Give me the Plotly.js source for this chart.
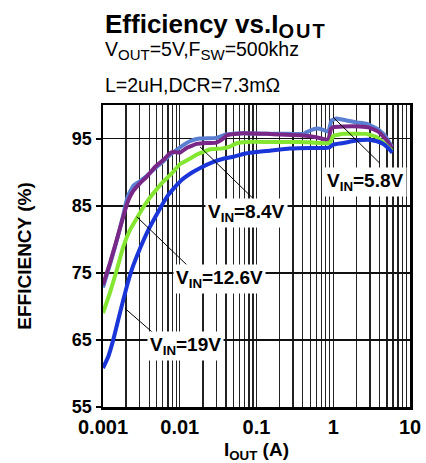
<!DOCTYPE html>
<html><head><meta charset="utf-8">
<script src="https://cdn.plot.ly/plotly-3.0.1.min.js"></script>
<style>html,body{margin:0;padding:0;background:#fff}#chart{width:426px;height:463px}</style>
</head><body><div id="chart"></div>
<script>
// ---- data (I_OUT in A, efficiency in %) ----
const iout19 = [0.001,0.00117,0.00136,0.00158,0.00184,0.00214,0.00248,0.00288,0.0033,0.0039,0.0048,0.0058,0.0071,0.0087,0.0105,0.0143,0.019,0.027,0.037,0.05,0.074,0.1,0.15,0.27,0.5,0.8,0.9,1.0,1.3,2.0,3.0,3.7,4.5,5.2,5.9];
const eff19  = [60.8,62.5,65.0,68.0,71.0,73.8,76.1,78.0,79.6,81.4,83.3,85.0,86.6,87.8,88.8,89.9,90.7,91.5,92.0,92.3,92.8,93.0,93.2,93.5,93.6,93.6,93.7,94.1,94.3,94.7,94.8,94.6,94.2,93.6,92.9];

const iout126 = [0.001,0.00123,0.00151,0.00184,0.00225,0.00275,0.0035,0.0045,0.0061,0.0079,0.0101,0.0135,0.0166,0.025,0.035,0.045,0.055,0.074,0.15,0.37,0.86,0.93,1.0,1.35,2.7,3.7,4.7,5.8];
const eff126  = [69.0,72.0,75.4,78.9,81.4,83.1,85.1,86.8,88.6,89.8,91.2,92.0,92.6,93.4,93.5,93.8,94.3,94.5,94.5,94.5,94.3,94.6,95.4,95.7,95.7,95.2,94.2,93.2];

const iout84 = [0.001,0.00123,0.00151,0.00184,0.00214,0.00248,0.003,0.0037,0.0048,0.0061,0.0074,0.0082,0.0101,0.0123,0.0166,0.02,0.03,0.036,0.041,0.067,0.136,0.2,0.37,0.6,0.86,0.93,1.0,1.35,2.2,3.0,3.9,4.5,5.0,5.8];
const eff84  = [73.2,76.4,79.9,83.4,85.8,87.2,88.3,89.3,90.8,91.8,92.8,93.0,92.9,93.6,94.2,94.3,94.4,94.9,95.5,95.8,95.7,95.6,95.5,95.2,94.8,96.4,96.7,96.8,96.8,96.6,96.0,95.3,94.7,93.6];

const iout58 = [0.001,0.00123,0.00151,0.00184,0.002,0.00214,0.0025,0.003,0.0037,0.0048,0.0061,0.0074,0.0101,0.0136,0.018,0.03,0.04,0.067,0.136,0.27,0.41,0.5,0.61,0.74,0.86,0.95,1.1,1.5,2.0,2.7,3.7,4.7,5.8];
const eff58  = [72.8,76.2,79.8,83.6,85.5,86.6,88.0,88.6,89.4,90.6,91.6,92.5,93.7,94.6,95.0,95.1,95.6,95.8,95.7,95.7,95.7,96.2,96.5,96.3,96.0,97.7,98.0,97.7,97.4,97.2,96.5,95.5,93.8];

const seriesNames = ['V<sub>IN</sub>=5.8V','V<sub>IN</sub>=8.4V','V<sub>IN</sub>=12.6V','V<sub>IN</sub>=19V'];
const seriesColors = ['#5b7fd0','#7a2887','#84e630','#1a35d8'];

const xTickLabels = ['0.001','0.01','0.1','1','10'];
const yTickVals = [55,65,75,85,95];

// decade ticks and 2..9 gridlines inside each decade
const decades = xTickLabels.map(Number);
const xMinorVals = [];
decades.slice(0,-1).forEach(d=>{ for(let k=2;k<10;k++) xMinorVals.push(d*k); });

const FONT = 'Liberation Sans, Arial, Helvetica, sans-serif';
const mk = (x,y,i)=>({x:x,y:y,type:'scatter',mode:'lines',name:seriesNames[i],
  line:{color:seriesColors[i],width:4,shape:'spline',smoothing:0.3},hoverinfo:'skip'});
const data = [mk(iout58,eff58,0), mk(iout84,eff84,1), mk(iout126,eff126,2), mk(iout19,eff19,3)];

// label callouts: [series index, curve point x, y, leader end x, y, label centre log10(x), y]
const callouts = [
  [0, 0.993, 98.2, 4.06, 91.3, 0.414, 88.6],
  [1, 0.0184, 93.75, 0.0956, 85.8, -1.124, 83.9],
  [2, 0.00275, 83.35, 0.0123, 76.2, -1.476, 74.1],
  [3, 0.00193, 69.7, 0.00476, 65.8, -1.919, 64.1]
];
const shapes = callouts.map(c=>({type:'line',xref:'x',yref:'y',x0:c[1],y0:c[2],x1:c[3],y1:c[4],
  line:{color:'#000',width:1},layer:'above'}));
const annotations = callouts.map(c=>({x:c[5],y:c[6],xref:'x',yref:'y',text:seriesNames[c[0]],showarrow:false,
    bgcolor:'#fff',borderpad:2,font:{family:FONT,size:19,color:'#000',weight:'bold'}}));
annotations.push({x:0,y:1.262,xref:'paper',yref:'paper',xanchor:'left',yanchor:'middle',showarrow:false,
  text:'Efficiency vs.I<sub><span style="font-size:20px;letter-spacing:2px">OUT</span></sub>',
  font:{family:FONT,size:26,color:'#000',weight:'bold'}});
annotations.push({x:0,y:1.18,xref:'paper',yref:'paper',xanchor:'left',yanchor:'middle',showarrow:false,
  text:'V<sub><span style="font-size:15px">OUT</span></sub>=5V,F<sub><span style="font-size:15px">SW</span></sub>=500khz',
  font:{family:FONT,size:19.5,color:'#000'}});
annotations.push({x:0,y:1.065,xref:'paper',yref:'paper',xanchor:'left',yanchor:'middle',showarrow:false,
  text:'L=2uH,DCR=7.3mΩ',font:{family:FONT,size:19.5,color:'#000'}});

const layout = {
  width:426,height:463,margin:{l:103,r:16,t:105,b:56},
  paper_bgcolor:'#fff',plot_bgcolor:'#fff',showlegend:false,
  font:{family:FONT,color:'#000'},
  xaxis:{type:'log',range:[-3,1],tickmode:'array',tickvals:decades,ticktext:xTickLabels,ticks:'',
    showgrid:true,gridcolor:'#222',gridwidth:1.3,
    minor:{tickmode:'array',tickvals:xMinorVals,showgrid:true,gridcolor:'#222',gridwidth:1.3,ticks:''},
    showline:true,linecolor:'#000',linewidth:2.5,mirror:true,
    zeroline:false,tickfont:{family:FONT,size:20,color:'#000',weight:'bold'},
    title:{text:'I<sub>OUT</sub> (A)',font:{family:FONT,size:19,color:'#000',weight:'bold'},standoff:14}},
  yaxis:{range:[55,100],tickmode:'array',tickvals:yTickVals,ticks:'outside',ticklen:5,tickwidth:2,tickcolor:'#000',
    showgrid:true,gridcolor:'#111',gridwidth:1.8,showline:true,linecolor:'#000',linewidth:2.5,mirror:true,
    zeroline:false,tickfont:{family:FONT,size:18,color:'#000',weight:'bold'},
    title:{text:'EFFICIENCY (%)',font:{family:FONT,size:19,color:'#000',weight:'bold'},standoff:35}},
  shapes:shapes,
  annotations:annotations
};
Plotly.newPlot('chart',data,layout,{staticPlot:true,displayModeBar:false});
</script></body></html>
